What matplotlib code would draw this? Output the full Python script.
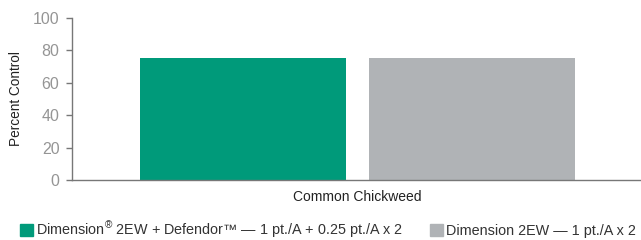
import matplotlib
matplotlib.use("Agg")
import matplotlib.pyplot as plt
from matplotlib.patches import Patch

# Data
category = "Common Chickweed"
series = ["Dimension$^{®}$ 2EW + Defendor™ — 1 pt./A + 0.25 pt./A x 2",
          "Dimension 2EW — 1 pt./A x 2"]
values = [75, 75]
colors = ["#009a7a", "#b0b3b6"]

plt.rcParams["font.family"] = ["Liberation Sans", "DejaVu Sans"]
plt.rcParams["mathtext.fontset"] = "custom"
plt.rcParams["mathtext.rm"] = "Liberation Sans"
plt.rcParams["mathtext.it"] = "Liberation Sans"

fig = plt.figure(figsize=(6.41, 2.4), dpi=100)
ax = fig.add_axes([72/641, 60/240, 569/641, 162/240])

positions = [-0.5, 0.5]
ax.bar(positions, values, width=0.9, color=colors)

ax.set_xlim(-1.247, 1.238)
ax.set_ylim(0, 100)
ax.set_yticks([0, 20, 40, 60, 80, 100])
ax.set_xticks([0])
ax.set_xticklabels([category], fontsize=10, color="#222222")
ax.tick_params(axis="x", length=0, pad=7)
ax.tick_params(axis="y", length=4, width=1, color="#777777",
               labelsize=11.5, labelcolor="#959595", pad=5)
ax.set_ylabel("Percent Control", fontsize=9.8, color="#222222", labelpad=7)

for s in ["top", "right"]:
    ax.spines[s].set_visible(False)
for s in ["left", "bottom"]:
    ax.spines[s].set_color("#777777")
    ax.spines[s].set_linewidth(1)

handles = [Patch(color=c, label=l) for c, l in zip(colors, series)]
fig.legend(handles=handles, loc="center left", bbox_to_anchor=(20/641, 10/240),
           ncol=2, frameon=False, fontsize=10.4, handlelength=0.9, handleheight=0.9,
           handletextpad=0.2, columnspacing=1.9, borderaxespad=0, borderpad=0,
           labelcolor="#333333")

fig.savefig("out.png", dpi=100)
